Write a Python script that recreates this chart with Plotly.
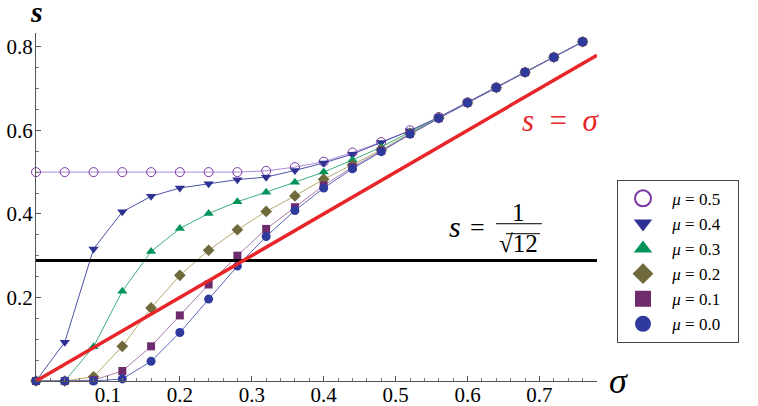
import plotly.graph_objects as go

# ---------------- data ----------------
sigma = [0.00, 0.04, 0.08, 0.12, 0.16, 0.20, 0.24, 0.28, 0.32, 0.36,
         0.40, 0.44, 0.48, 0.52, 0.56, 0.60, 0.64, 0.68, 0.72, 0.76]

s_mu05 = [0.500, 0.500, 0.500, 0.500, 0.500, 0.500, 0.500, 0.500, 0.503, 0.512,
          0.525, 0.547, 0.572, 0.600, 0.632, 0.667, 0.703, 0.739, 0.775, 0.812]
s_mu04 = [0.000, 0.093, 0.316, 0.405, 0.442, 0.462, 0.472, 0.482, 0.488, 0.504,
          0.522, 0.543, 0.571, 0.599, 0.631, 0.667, 0.703, 0.739, 0.775, 0.812]
s_mu03 = [0.000, 0.000, 0.082, 0.215, 0.310, 0.365, 0.401, 0.429, 0.452, 0.476,
          0.500, 0.529, 0.560, 0.596, 0.630, 0.666, 0.703, 0.739, 0.775, 0.812]
s_mu02 = [0.000, 0.000, 0.010, 0.083, 0.175, 0.253, 0.313, 0.362, 0.406, 0.443,
          0.483, 0.517, 0.553, 0.593, 0.630, 0.666, 0.702, 0.739, 0.775, 0.812]
s_mu01 = [0.000, 0.000, 0.002, 0.024, 0.083, 0.157, 0.231, 0.300, 0.364, 0.416,
          0.468, 0.512, 0.551, 0.592, 0.629, 0.666, 0.702, 0.739, 0.775, 0.812]
s_mu00 = [0.000, 0.000, 0.000, 0.005, 0.047, 0.116, 0.196, 0.275, 0.346, 0.408,
          0.462, 0.508, 0.549, 0.591, 0.629, 0.666, 0.702, 0.739, 0.775, 0.812]

series_names = ["<i>μ</i> = 0.5", "<i>μ</i> = 0.4", "<i>μ</i> = 0.3",
                "<i>μ</i> = 0.2", "<i>μ</i> = 0.1", "<i>μ</i> = 0.0"]
series_values = [s_mu05, s_mu04, s_mu03, s_mu02, s_mu01, s_mu00]

diag_sigma = [0.0, 0.78]          # s = sigma reference line
hline_sigma = [0.0, 0.78]
hline_s = 0.2887                  # s = 1/sqrt(12)

x_tickvals = [0.1, 0.2, 0.3, 0.4, 0.5, 0.6, 0.7]
x_ticktext = ["0.1", "0.2", "0.3", "0.4", "0.5", "0.6", "0.7"]
y_tickvals = [0.2, 0.4, 0.6, 0.8]
y_ticktext = ["0.2", "0.4", "0.6", "0.8"]

# ---------------- styles ----------------
marker_symbols = ["circle-open", "triangle-down", "triangle-up", "diamond", "square", "circle"]
marker_colors = ["#7A35A6", "#2E3192", "#00945A", "#6E6A3C", "#6E2C6E", "#2E3A9C"]
line_colors = ["#A98CD6", "#4D53A8", "#3AAE7A", "#B5A76E", "#A77AA7", "#5A66B8"]
marker_sizes = [9, 9, 9, 9, 8, 9]
legend_sizes = [20, 20, 20, 18, 20, 20]

W, H = 758, 406
L, R, T, B = 36, 161, 33, 24.5
PW, PH = W - L - R, H - T - B


def pxx(px):
    return (px - L) / PW


def pxy(py):
    return (H - B - py) / PH


SERIF = "Times New Roman, Liberation Serif, Tinos, serif"
NB = "\u00a0"
TAIL = "\u00a0\u00a0\u00a0"

fig = go.Figure()

for name, vals, sym, mc, lc, ms in zip(series_names, series_values, marker_symbols,
                                       marker_colors, line_colors, marker_sizes):
    open_ = sym.endswith("open")
    fig.add_trace(go.Scatter(
        x=sigma, y=vals, mode="lines+markers", showlegend=False, cliponaxis=False,
        line=dict(color=lc, width=1),
        marker=dict(symbol=sym, size=ms, color=mc,
                    line=dict(color=mc, width=1 if open_ else 0)),
    ))

fig.add_trace(go.Scatter(x=hline_sigma, y=[hline_s, hline_s], mode="lines",
                         showlegend=False, cliponaxis=False,
                         line=dict(color="black", width=3)))
fig.add_trace(go.Scatter(x=diag_sigma, y=diag_sigma, mode="lines",
                         showlegend=False, cliponaxis=False,
                         line=dict(color="#E8262A", width=3.5)))

# legend-only entries (markers only)
for name, sym, mc, ls in zip(series_names, marker_symbols, marker_colors, legend_sizes):
    open_ = sym.endswith("open")
    fig.add_trace(go.Scatter(
        x=[None], y=[None], mode="markers", name=NB + name + TAIL, showlegend=True,
        marker=dict(symbol=sym, size=ls, color=mc,
                    line=dict(color=mc, width=2 if open_ else 0)),
    ))

axis_common = dict(
    showgrid=False, zeroline=False, showline=True, linecolor="#555555", linewidth=1,
    ticks="inside", ticklen=5, tickcolor="#555555", tickwidth=1, automargin=False,
    tickfont=dict(family=SERIF, size=21, color="black"),
)

fig.update_xaxes(range=[0, 0.78], tickmode="array", tickvals=x_tickvals, ticktext=x_ticktext,
                 minor=dict(dtick=0.02, tick0=0, ticks="inside", ticklen=3, tickcolor="#777777"),
                 ticklabelstandoff=-5,
                 **axis_common)
fig.update_yaxes(range=[0, 0.833], tickmode="array", tickvals=y_tickvals, ticktext=y_ticktext,
                 minor=dict(dtick=0.05, tick0=0, ticks="inside", ticklen=3, tickcolor="#777777"),
                 ticklabelstandoff=-2,
                 **axis_common)


def text_at(text, px, py, size, color="black"):
    return dict(text=text, x=pxx(px), y=pxy(py), xref="paper", yref="paper",
                xanchor="center", yanchor="middle", showarrow=False,
                font=dict(family=SERIF, size=size, color=color))


ann = [
    text_at("<b><i>s</i></b>", 36, 11, 30),                       # y-axis label
    text_at("<i>σ</i>", 618, 382, 36),                            # x-axis label
    text_at("<i>s</i>\u2002=\u2002<i>σ</i>", 561, 121, 31, "#E8262A"),
    text_at("<i>s</i>", 455, 227, 30),
    text_at("=", 477, 228, 26),
    text_at("1", 518, 213, 25),
    text_at("√12", 518, 244, 25),
]

shapes = [
    dict(type="line", xref="paper", yref="paper", x0=pxx(496), x1=pxx(542),
         y0=pxy(224), y1=pxy(224), line=dict(color="black", width=1)),
    dict(type="line", xref="paper", yref="paper", x0=pxx(506), x1=pxx(540),
         y0=pxy(234), y1=pxy(234), line=dict(color="black", width=1)),
]

fig.update_layout(
    width=W, height=H,
    margin=dict(l=L, r=R, t=T, b=B, pad=0, autoexpand=False),
    paper_bgcolor="white", plot_bgcolor="white",
    annotations=ann, shapes=shapes,
    legend=dict(x=pxx(617), y=pxy(180), xanchor="left", yanchor="top",
                borderwidth=1, bordercolor="#444444", bgcolor="white",
                font=dict(family=SERIF, size=17, color="black"),
                itemsizing="trace", tracegroupgap=0, itemwidth=40),
    font=dict(family=SERIF),
)

fig.write_html("out.html", config={"displayModeBar": False},
               post_script="document.body.style.margin='0';document.body.style.overflow='hidden';")
